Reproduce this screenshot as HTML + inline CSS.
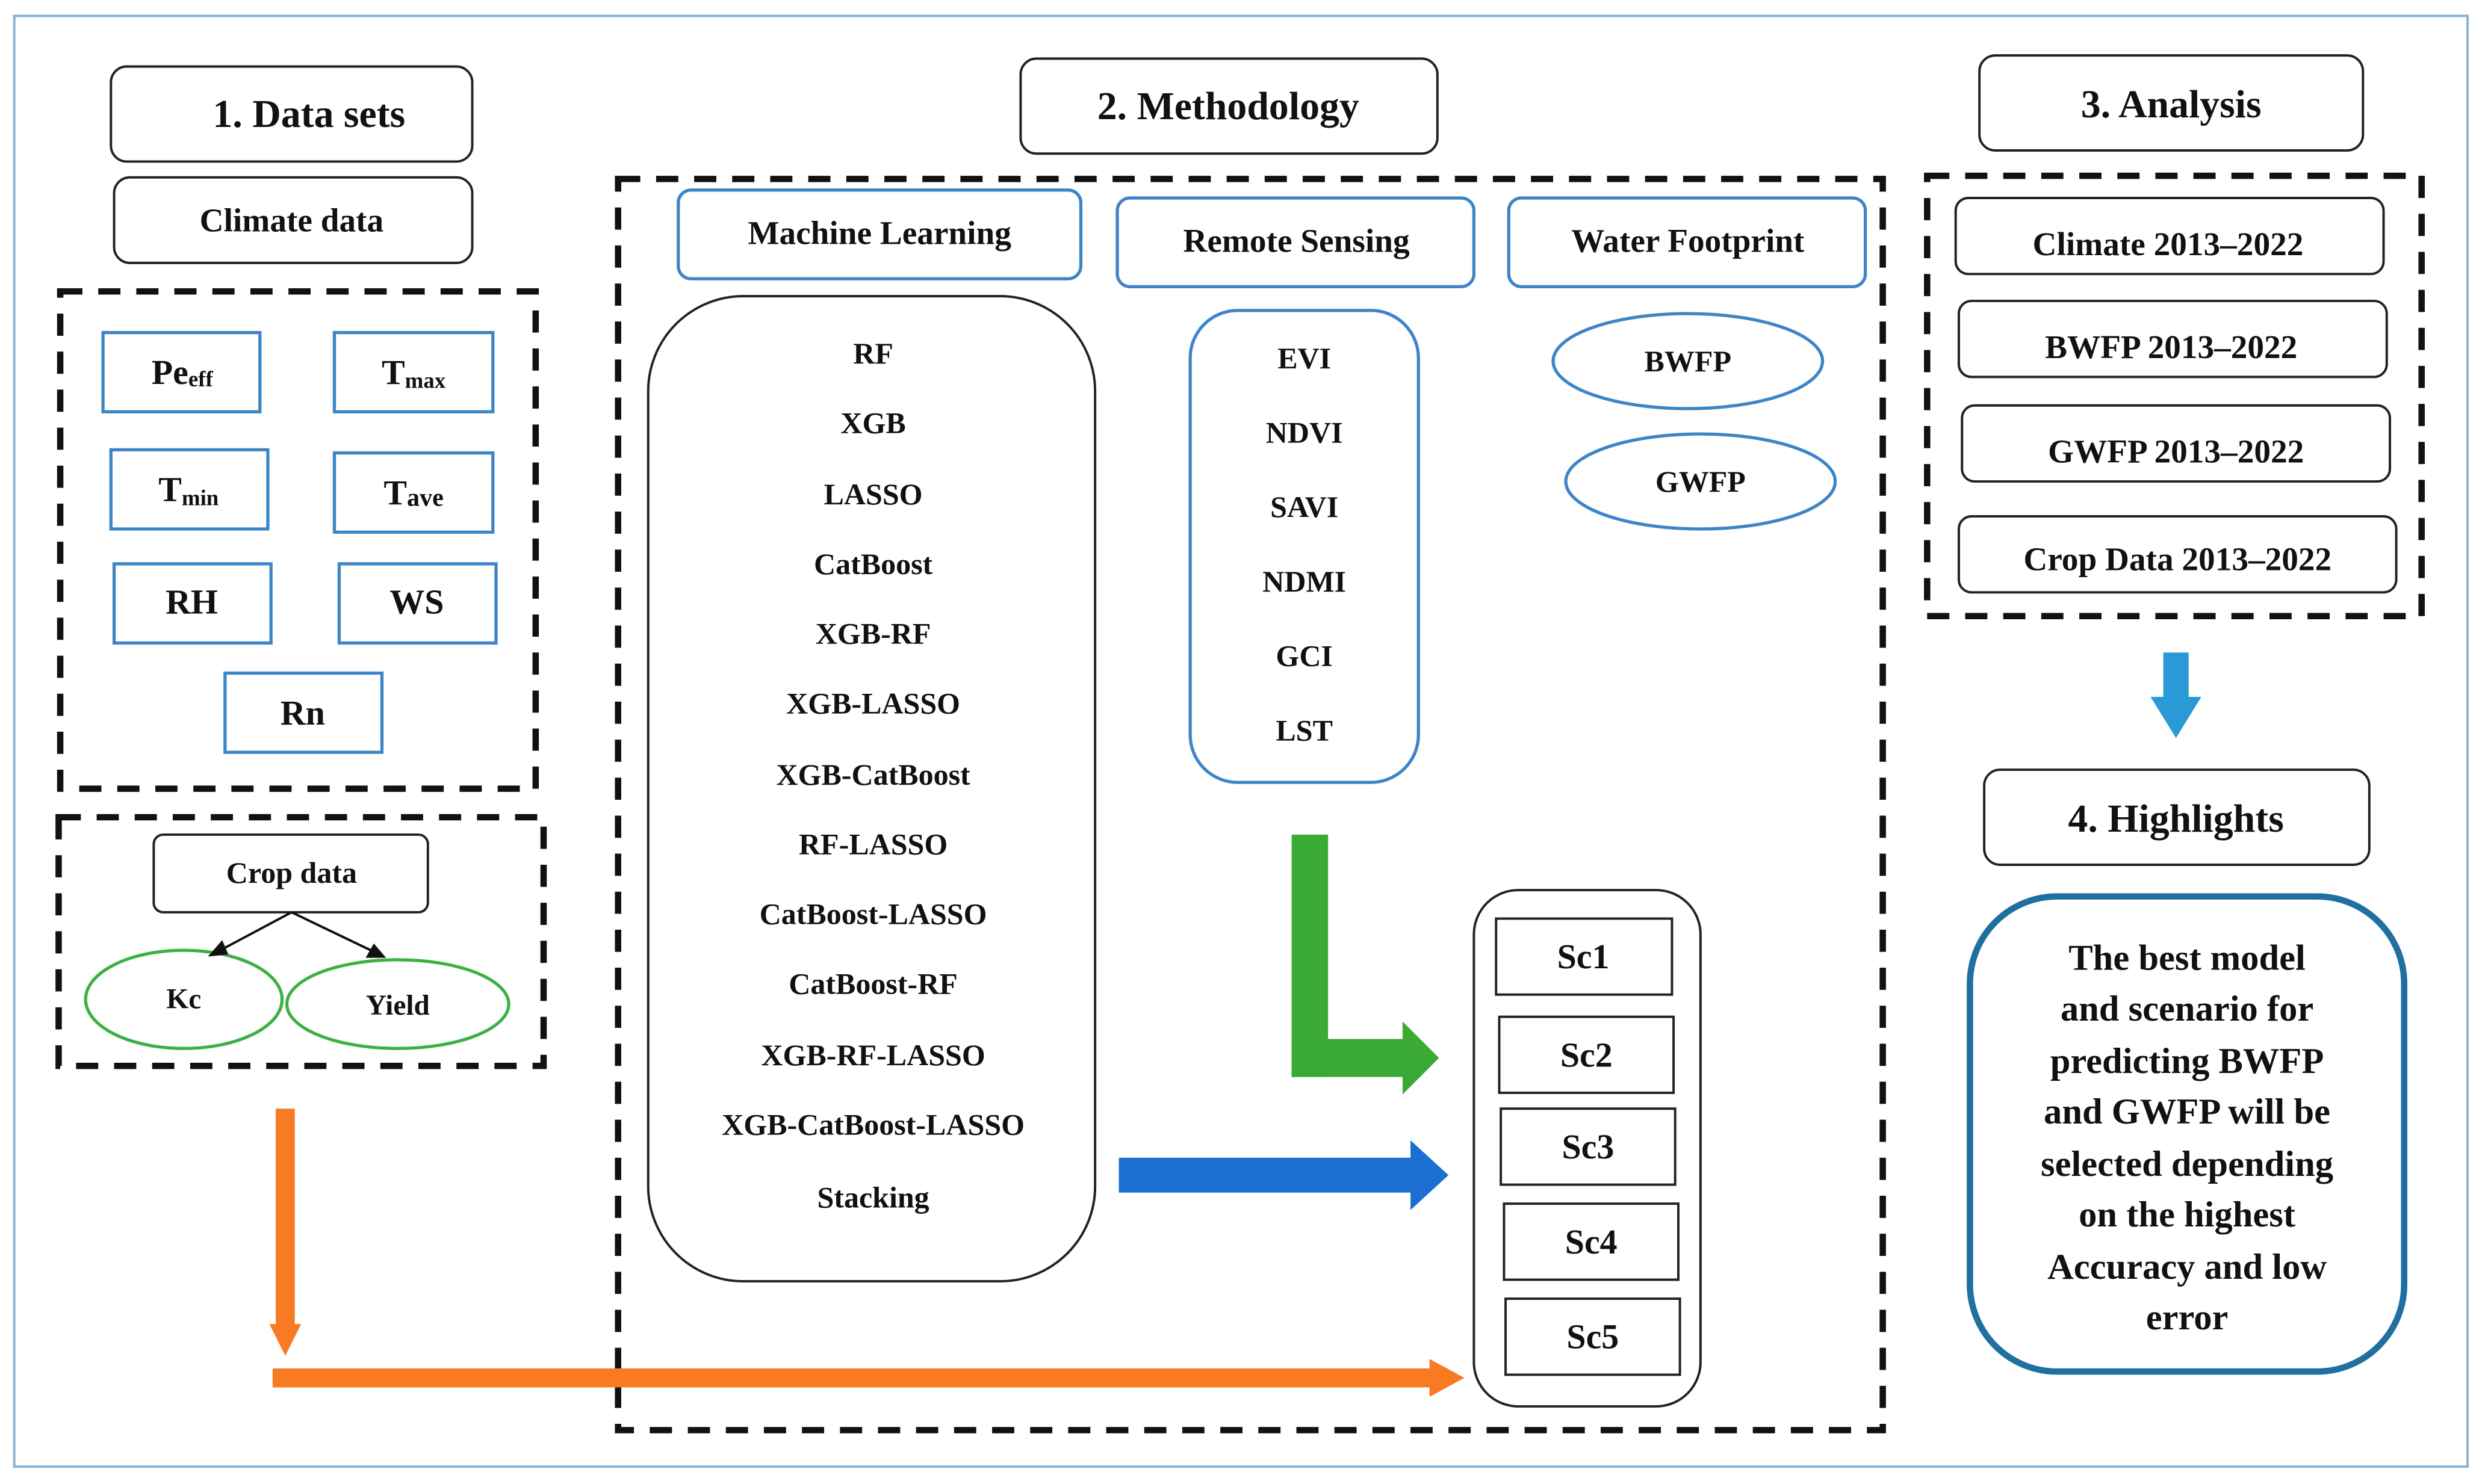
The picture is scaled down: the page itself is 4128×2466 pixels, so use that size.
<!DOCTYPE html>
<html><head><meta charset="utf-8"><style>html,body{margin:0;padding:0;background:#fff}svg{display:block}text{font-family:"Liberation Serif",serif;font-weight:bold;fill:#111;text-anchor:middle;dominant-baseline:central}</style></head><body>
<svg width="4128" height="2466" viewBox="0 0 1568 937" preserveAspectRatio="none" xmlns="http://www.w3.org/2000/svg">
<rect x="9" y="10" width="1548" height="916" fill="none" stroke="#86b2d6" stroke-width="1.5"/>
<g fill="none" stroke="#222" stroke-width="1.5">
<rect x="70" y="42" width="228" height="60" rx="10"/>
<rect x="72" y="112" width="226" height="54" rx="10"/>
<rect x="97" y="527" width="173" height="49" rx="6"/>
<rect x="644" y="37" width="263" height="60" rx="10"/>
<rect x="409" y="187" width="282" height="622" rx="60"/>
<rect x="930" y="562" width="143" height="326" rx="28"/>
<rect x="944" y="580" width="111" height="48"/>
<rect x="946" y="642" width="110" height="48"/>
<rect x="947" y="700" width="110" height="48"/>
<rect x="949" y="760" width="110" height="48"/>
<rect x="950" y="820" width="110" height="48"/>
<rect x="1249" y="35" width="242" height="60" rx="10"/>
<rect x="1234" y="125" width="270" height="48" rx="8"/>
<rect x="1236" y="190" width="270" height="48" rx="8"/>
<rect x="1238" y="256" width="270" height="48" rx="8"/>
<rect x="1236" y="326" width="276" height="48" rx="8"/>
<rect x="1252" y="486" width="243" height="60" rx="10"/>
</g>
<g fill="none" stroke="#111" stroke-width="4" stroke-dasharray="14 10">
<rect x="38" y="184" width="300" height="314"/>
<rect x="37" y="516" width="306" height="157"/>
<rect x="390" y="113" width="798" height="790"/>
<rect x="1216" y="111" width="312" height="278"/>
</g>
<g fill="none" stroke="#3d85c6" stroke-width="2">
<rect x="65" y="210" width="99" height="50"/>
<rect x="211" y="210" width="100" height="50"/>
<rect x="70" y="284" width="99" height="50"/>
<rect x="211" y="286" width="100" height="50"/>
<rect x="72" y="356" width="99" height="50"/>
<rect x="214" y="356" width="99" height="50"/>
<rect x="142" y="425" width="99" height="50"/>
<rect x="428" y="120" width="254" height="56" rx="8"/>
<rect x="705" y="125" width="225" height="56" rx="8"/>
<rect x="952" y="125" width="225" height="56" rx="8"/>
<rect x="751" y="196" width="144" height="298" rx="30"/>
<ellipse cx="1065" cy="228" rx="85" ry="30"/>
<ellipse cx="1073" cy="304" rx="85" ry="30"/>
</g>
<rect x="1243" y="566" width="274" height="300" rx="55" fill="none" stroke="#1f6fa0" stroke-width="4"/>
<g fill="none" stroke="#3cb043" stroke-width="2">
<ellipse cx="116" cy="631" rx="62" ry="31"/>
<ellipse cx="251" cy="634" rx="70" ry="28"/>
</g>
<g stroke="#111" stroke-width="1.5" fill="#111">
<line x1="184" y1="576" x2="139" y2="600"/><polygon points="133,603 140,595 143,602"/>
<line x1="184" y1="576" x2="236" y2="601"/><polygon points="242,604 232,604 236,597"/>
</g>
<g fill="#f87a22">
<rect x="174" y="700" width="12" height="138"/><polygon points="170,836 190,836 180,856"/>
<rect x="172" y="864" width="732" height="12"/><polygon points="902,858 902,882 924,870"/>
</g>
<g fill="#3aaa35">
<rect x="815" y="527" width="23" height="153"/>
<rect x="815" y="656" width="72" height="24"/><polygon points="885,645 885,691 908,668"/>
</g>
<g fill="#1a6fd0">
<rect x="706" y="731" width="186" height="22"/><polygon points="890,720 890,764 914,742"/>
</g>
<g fill="#2a9ad6">
<rect x="1365" y="412" width="16" height="30"/><polygon points="1357,440 1389,440 1373,466"/>
</g>
<g font-size="25"><text x="195" y="72">1. Data sets</text><text x="775" y="67">2. Methodology</text><text x="1370" y="66">3. Analysis</text><text x="1373" y="517">4. Highlights</text></g>
<g font-size="21">
<text x="184" y="139">Climate data</text>
<text x="184" y="551" font-size="19">Crop data</text>
<text x="555" y="147">Machine Learning</text>
<text x="818" y="152">Remote Sensing</text>
<text x="1065" y="152">Water Footprint</text>
<text x="1368" y="154">Climate 2013–2022</text>
<text x="1370" y="219">BWFP 2013–2022</text>
<text x="1373" y="285">GWFP 2013–2022</text>
<text x="1374" y="353">Crop Data 2013–2022</text>
</g>
<g font-size="22">
<text x="115" y="235">Pe<tspan font-size="14" dy="4">eff</tspan></text>
<text x="261" y="235">T<tspan font-size="14" dy="5">max</tspan></text>
<text x="119" y="309">T<tspan font-size="14" dy="5">min</tspan></text>
<text x="261" y="311">T<tspan font-size="16" dy="3">ave</tspan></text>
<text x="121" y="380">RH</text><text x="263" y="380">WS</text><text x="191" y="450">Rn</text>
<text x="116" y="631" font-size="18">Kc</text><text x="251" y="635" font-size="18">Yield</text>
<text x="999" y="604">Sc1</text><text x="1001" y="666">Sc2</text><text x="1002" y="724">Sc3</text><text x="1004" y="784">Sc4</text><text x="1005" y="844">Sc5</text>
</g>
<g font-size="19">
<text x="551" y="223">RF</text><text x="551" y="267">XGB</text><text x="551" y="312">LASSO</text><text x="551" y="356">CatBoost</text><text x="551" y="400">XGB-RF</text><text x="551" y="444">XGB-LASSO</text><text x="551" y="489">XGB-CatBoost</text><text x="551" y="533">RF-LASSO</text><text x="551" y="577">CatBoost-LASSO</text><text x="551" y="621">CatBoost-RF</text><text x="551" y="666">XGB-RF-LASSO</text><text x="551" y="710">XGB-CatBoost-LASSO</text><text x="551" y="756">Stacking</text>
<text x="823" y="226">EVI</text><text x="823" y="273">NDVI</text><text x="823" y="320">SAVI</text><text x="823" y="367">NDMI</text><text x="823" y="414">GCI</text><text x="823" y="461">LST</text>
<text x="1065" y="228">BWFP</text><text x="1073" y="304">GWFP</text>
</g>
<g font-size="23">
<text x="1380" y="605">The best model</text><text x="1380" y="637">and scenario for</text><text x="1380" y="670">predicting BWFP</text><text x="1380" y="702">and GWFP will be</text><text x="1380" y="735">selected depending</text><text x="1380" y="767">on the highest</text><text x="1380" y="800">Accuracy and low</text><text x="1380" y="832">error</text>
</g>
</svg>
</body></html>
